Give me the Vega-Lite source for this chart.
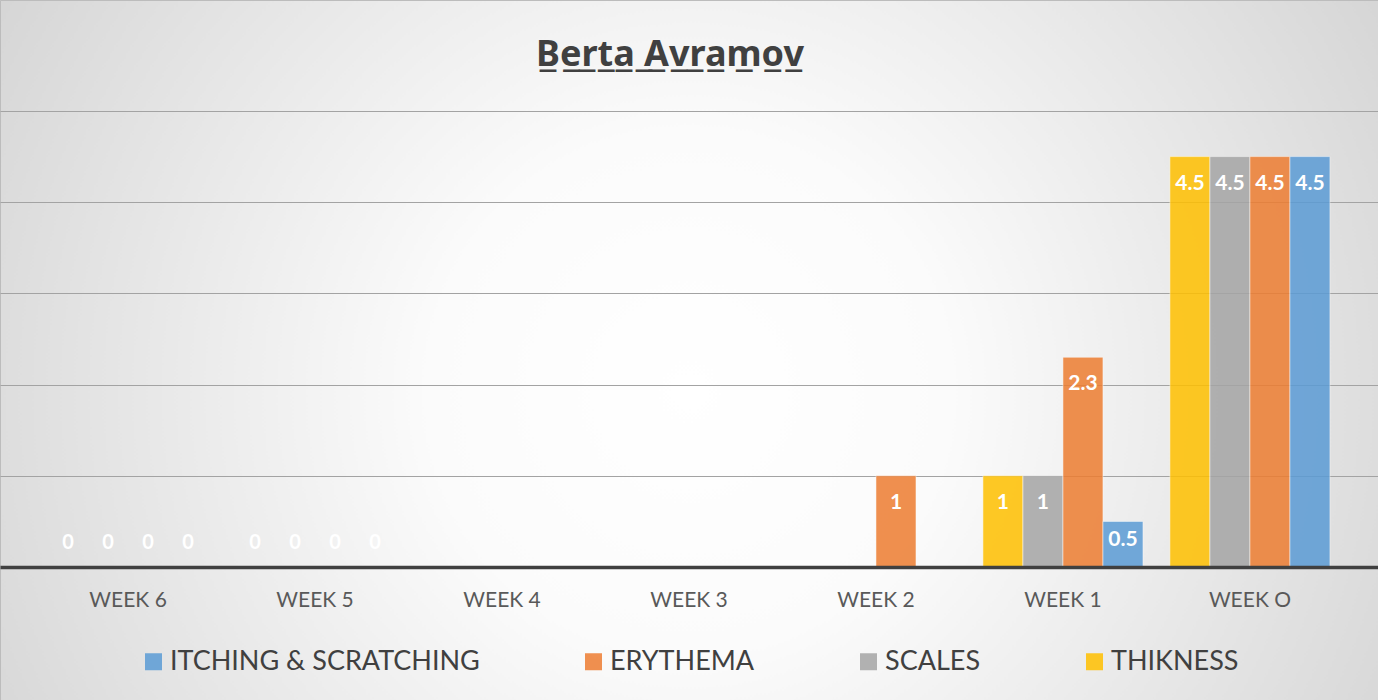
{
  "$schema": "https://vega.github.io/schema/vega-lite/v6.json",
  "width": 1378,
  "height": 700,
  "autosize": {"type": "none"},
  "padding": 0,
  "background": "#c8c8c8",
  "config": {
    "view": {
      "stroke": "#bcbcbc",
      "strokeWidth": 1,
      "fill": {
        "gradient": "radial",
        "x1": 0.5, "y1": 0.53, "r1": 0,
        "x2": 0.5, "y2": 0.53, "r2": 0.75,
        "stops": [
          {"offset": 0, "color": "#ffffff"},
          {"offset": 0.25, "color": "#fbfbfb"},
          {"offset": 0.6, "color": "#e2e2e2"},
          {"offset": 1, "color": "#c4c4c4"}
        ]
      }
    },
    "font": "Lato"
  },
  "title": {
    "text": "B\u0332e\u0332r\u0332t\u0332a\u0332 \u0332A\u0332v\u0332r\u0332a\u0332m\u0332o\u0332v\u0332",
    "frame": "group",
    "anchor": "middle",
    "orient": "top",
    "baseline": "alphabetic",
    "offset": -102,
    "dx": -19,
    "font": "Noto Sans",
    "fontSize": 36,
    "fontWeight": "bold",
    "color": "#404040"
  },
  "data": {
    "values": [
      {"week": "WEEK 6", "series": "THIKNESS", "value": 0},
      {"week": "WEEK 6", "series": "SCALES", "value": 0},
      {"week": "WEEK 6", "series": "ERYTHEMA", "value": 0},
      {"week": "WEEK 6", "series": "ITCHING & SCRATCHING", "value": 0},
      {"week": "WEEK 5", "series": "THIKNESS", "value": 0},
      {"week": "WEEK 5", "series": "SCALES", "value": 0},
      {"week": "WEEK 5", "series": "ERYTHEMA", "value": 0},
      {"week": "WEEK 5", "series": "ITCHING & SCRATCHING", "value": 0},
      {"week": "WEEK 2", "series": "ERYTHEMA", "value": 1},
      {"week": "WEEK 1", "series": "THIKNESS", "value": 1},
      {"week": "WEEK 1", "series": "SCALES", "value": 1},
      {"week": "WEEK 1", "series": "ERYTHEMA", "value": 2.3},
      {"week": "WEEK 1", "series": "ITCHING & SCRATCHING", "value": 0.5},
      {"week": "WEEK O", "series": "THIKNESS", "value": 4.5},
      {"week": "WEEK O", "series": "SCALES", "value": 4.5},
      {"week": "WEEK O", "series": "ERYTHEMA", "value": 4.5},
      {"week": "WEEK O", "series": "ITCHING & SCRATCHING", "value": 4.5}
    ]
  },
  "encoding": {
    "x": {
      "field": "week",
      "type": "nominal",
      "sort": null,
      "scale": {
        "domain": ["WEEK 6", "WEEK 5", "WEEK 4", "WEEK 3", "WEEK 2", "WEEK 1", "WEEK O"],
        "paddingInner": 0.144,
        "paddingOuter": 0.257
      },
      "axis": {
        "title": null,
        "orient": "bottom",
        "offset": -133,
        "ticks": false,
        "grid": false,
        "domainColor": "#404040",
        "domainWidth": 3.5,
        "labelFont": "Lato",
        "labelFontSize": 21,
        "labelColor": "#595959",
        "labelPadding": 22,
        "labelAngle": 0,
        "zindex": 1
      }
    },
    "xOffset": {
      "field": "series",
      "type": "nominal",
      "scale": {
        "domain": ["THIKNESS", "SCALES", "ERYTHEMA", "ITCHING & SCRATCHING"],
        "paddingInner": 0,
        "paddingOuter": 0
      }
    },
    "y": {
      "field": "value",
      "type": "quantitative",
      "scale": {"domain": [-1.4583, 6.2171], "nice": false, "zero": false},
      "axis": {
        "title": null,
        "values": [1, 2, 3, 4, 5],
        "labels": false,
        "ticks": false,
        "domain": false,
        "grid": true,
        "gridColor": "#a3a3a3",
        "gridWidth": 1
      }
    }
  },
  "layer": [
    {
      "mark": {"type": "bar", "opacity": 0.85, "stroke": "#ffffff", "strokeOpacity": 0.5, "strokeWidth": 1},
      "encoding": {
        "y2": {"datum": 0},
        "color": {
          "field": "series",
          "type": "nominal",
          "scale": {
            "domain": ["ITCHING & SCRATCHING", "ERYTHEMA", "SCALES", "THIKNESS"],
            "range": ["#5B9BD5", "#ED7D31", "#A5A5A5", "#FFC000"]
          },
          "legend": {
            "title": null,
            "orient": "none",
            "legendX": 140,
            "legendY": 648,
            "direction": "horizontal",
            "columns": 4,
            "columnPadding": 100,
            "symbolType": "square",
            "symbolSize": 289,
            "symbolOpacity": 0.85,
            "symbolStrokeWidth": 0,
            "labelFont": "Lato",
            "labelFontSize": 27,
            "labelColor": "#404040",
            "labelOffset": 3,
            "labelLimit": 0,
            "padding": 0
          }
        }
      }
    },
    {
      "transform": [{"filter": "datum.value >= 1"}],
      "mark": {"type": "text", "color": "#ffffff", "fontWeight": "bold", "fontSize": 21, "baseline": "middle", "dy": 27},
      "encoding": {"text": {"field": "value", "type": "quantitative"}}
    },
    {
      "transform": [{"filter": "datum.value > 0 && datum.value < 1"}],
      "mark": {"type": "text", "color": "#ffffff", "fontWeight": "bold", "fontSize": 21, "baseline": "middle", "dy": 19},
      "encoding": {"text": {"field": "value", "type": "quantitative"}}
    },
    {
      "transform": [{"filter": "datum.value == 0"}],
      "mark": {"type": "text", "color": "#ffffff", "fontWeight": "bold", "fontSize": 20, "baseline": "middle", "dy": -24},
      "encoding": {"text": {"field": "value", "type": "quantitative"}}
    }
  ]
}
